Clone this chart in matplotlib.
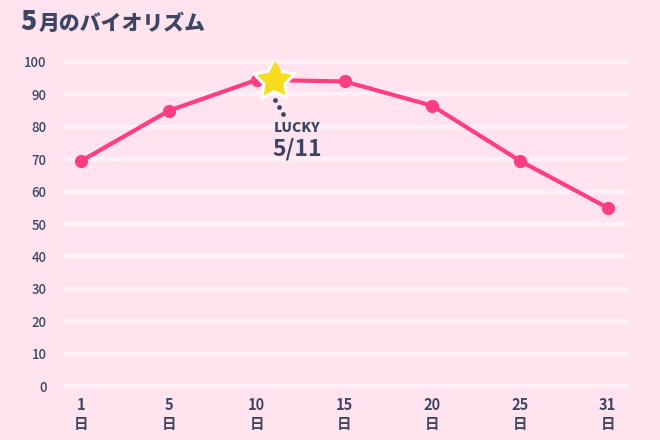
import numpy as np
import matplotlib.pyplot as plt
from matplotlib.markers import MarkerStyle

plt.rcParams['font.family'] = ['Noto Sans CJK JP', 'DejaVu Sans']

days = [1, 5, 10, 15, 20, 25, 31]
values = [69.5, 85, 94.5, 94, 86.5, 69.5, 55]
lucky_day = 11
lucky_value = 94.5
yticks = np.arange(0, 101, 10)

bg = '#ffe4f0'
pink = '#ff3d82'
navy = '#3c4561'

fig = plt.figure(figsize=(6.6, 4.4), dpi=100, facecolor=bg)
ax = fig.add_axes([0.098, 0.1227, 0.852, 0.7364], facecolor=bg)

ind = np.arange(len(days))
# star sits between the category slots
lucky_x = np.interp(lucky_day, days, ind)

# a plump five point star
ang = np.pi / 2 + np.arange(10) * np.pi / 5
rad = np.where(np.arange(10) % 2 == 0, 1.0, 0.52)
star = MarkerStyle(list(zip(rad * np.cos(ang), rad * np.sin(ang))), joinstyle='round')

for y in yticks:
    ax.axhline(y, color='#fff0f7', lw=3.2, zorder=1, clip_on=False)

ax.plot(ind, values, color=pink, lw=3, marker='o', ms=8.5, zorder=3, solid_capstyle='round')
ax.plot([lucky_x], [lucky_value], marker=star, ms=31, color='#fadc1e',
        markeredgecolor='white', markeredgewidth=2.2, zorder=4)

# dotted leader to the label
ax.plot([lucky_x + 0.01, lucky_x + 0.055, lucky_x + 0.1], [lucky_value - 6.3, lucky_value - 8.5, lucky_value - 10.7],
        ls='none', marker='o', ms=2.4, color=navy, zorder=4)
ax.text(lucky_x + 0.26, lucky_value - 14.8, 'LUCKY', ha='center', va='center', fontsize=10,
        fontweight='heavy', color=navy)
ax.text(lucky_x + 0.26, lucky_value - 21.2, '5/11', ha='center', va='center', fontsize=16.5,
        fontweight='bold', color=navy)

ax.set_xlim(-0.19, 6.22)
ax.set_ylim(0, 100)
ax.set_yticks(yticks)
ax.set_yticklabels([str(v) for v in yticks], fontsize=9.5, color=navy, fontweight='medium')
ax.set_xticks(ind)
ax.set_xticklabels([f'{d}\n日' for d in days], fontsize=10.5, color=navy, fontweight='bold', linespacing=1.2)
ax.tick_params(axis='y', length=0, pad=13)
ax.tick_params(axis='x', length=0, pad=8)
for s in ax.spines.values():
    s.set_visible(False)

fig.text(0.031, 0.95, '5', fontsize=19, fontweight='heavy', color=navy, va='center')
fig.text(0.058, 0.946, '月のバイオリズム', fontsize=15, fontweight='heavy', color=navy, va='center')

fig.savefig('out.png', dpi=100, facecolor=bg)
